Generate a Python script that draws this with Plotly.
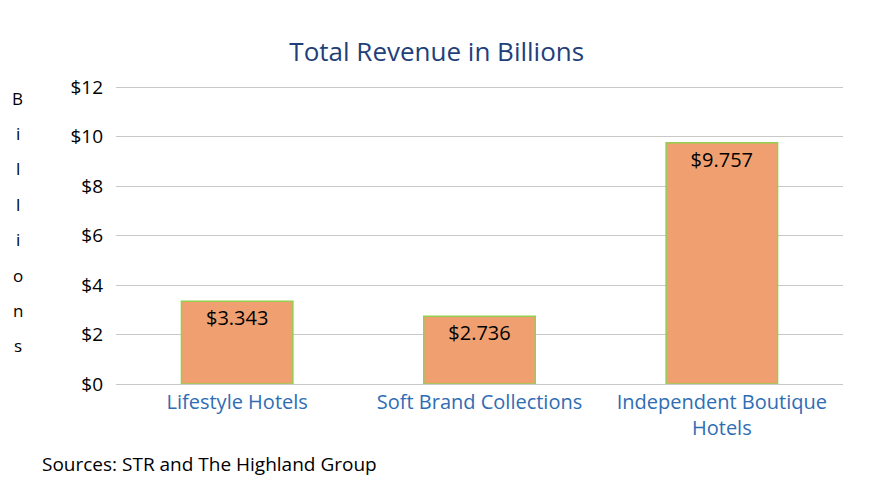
import plotly.graph_objects as go

categories = ["Lifestyle Hotels", "Soft Brand Collections", "Independent Boutique<br>Hotels"]
revenue = [3.343, 2.736, 9.757]
labels = ["$3.343", "$2.736", "$9.757"]
tick_vals = [0, 2, 4, 6, 8, 10, 12]
tick_text = ["$0", "$2", "$4", "$6", "$8", "$10", "$12"]

font = "Open Sans, Liberation Sans, sans-serif"

fig = go.Figure()
fig.add_trace(go.Bar(
    x=categories, y=revenue, text=labels,
    textposition="inside", insidetextanchor="end",
    textfont=dict(size=20, color="black", family=font),
    marker=dict(color="#F0A070", line=dict(color="#92D050", width=1.5)),
    width=0.46,
))

fig.update_layout(
    width=875, height=490,
    margin=dict(l=108, r=40, t=78, b=114),
    plot_bgcolor="white", paper_bgcolor="white",
    showlegend=False,
    title=dict(text="Total Revenue in Billions", x=0.49, xanchor="center", y=0.93,
               font=dict(size=26, color="#1F3F7A", family=font)),
    font=dict(family=font),
)
fig.update_yaxes(range=[0, 12.05], tickvals=tick_vals, ticktext=tick_text,
                 showgrid=True, gridcolor="#C8C8C8", gridwidth=1.2, zeroline=False,
                 tickfont=dict(size=19, color="black"), ticks="", ticklabelstandoff=12)
fig.update_xaxes(showline=True, linecolor="#C8C8C8", linewidth=1.2,
                 tickfont=dict(size=20, color="#2E6DB4"), ticks="")

letters = "Billions"
for i, ch in enumerate(letters):
    py = 97 + i * 35.4
    fig.add_annotation(text=ch, xref="paper", yref="paper", x=-0.135, y=(383 - py) / 298,
                       xanchor="center", yanchor="middle", showarrow=False,
                       font=dict(size=17, color="black"))

fig.add_annotation(text="Sources: STR and The Highland Group", xref="paper", yref="paper",
                   x=-0.104, y=-0.27, xanchor="left", yanchor="middle", showarrow=False,
                   font=dict(size=19, color="black"))

fig.write_html("out.html")
